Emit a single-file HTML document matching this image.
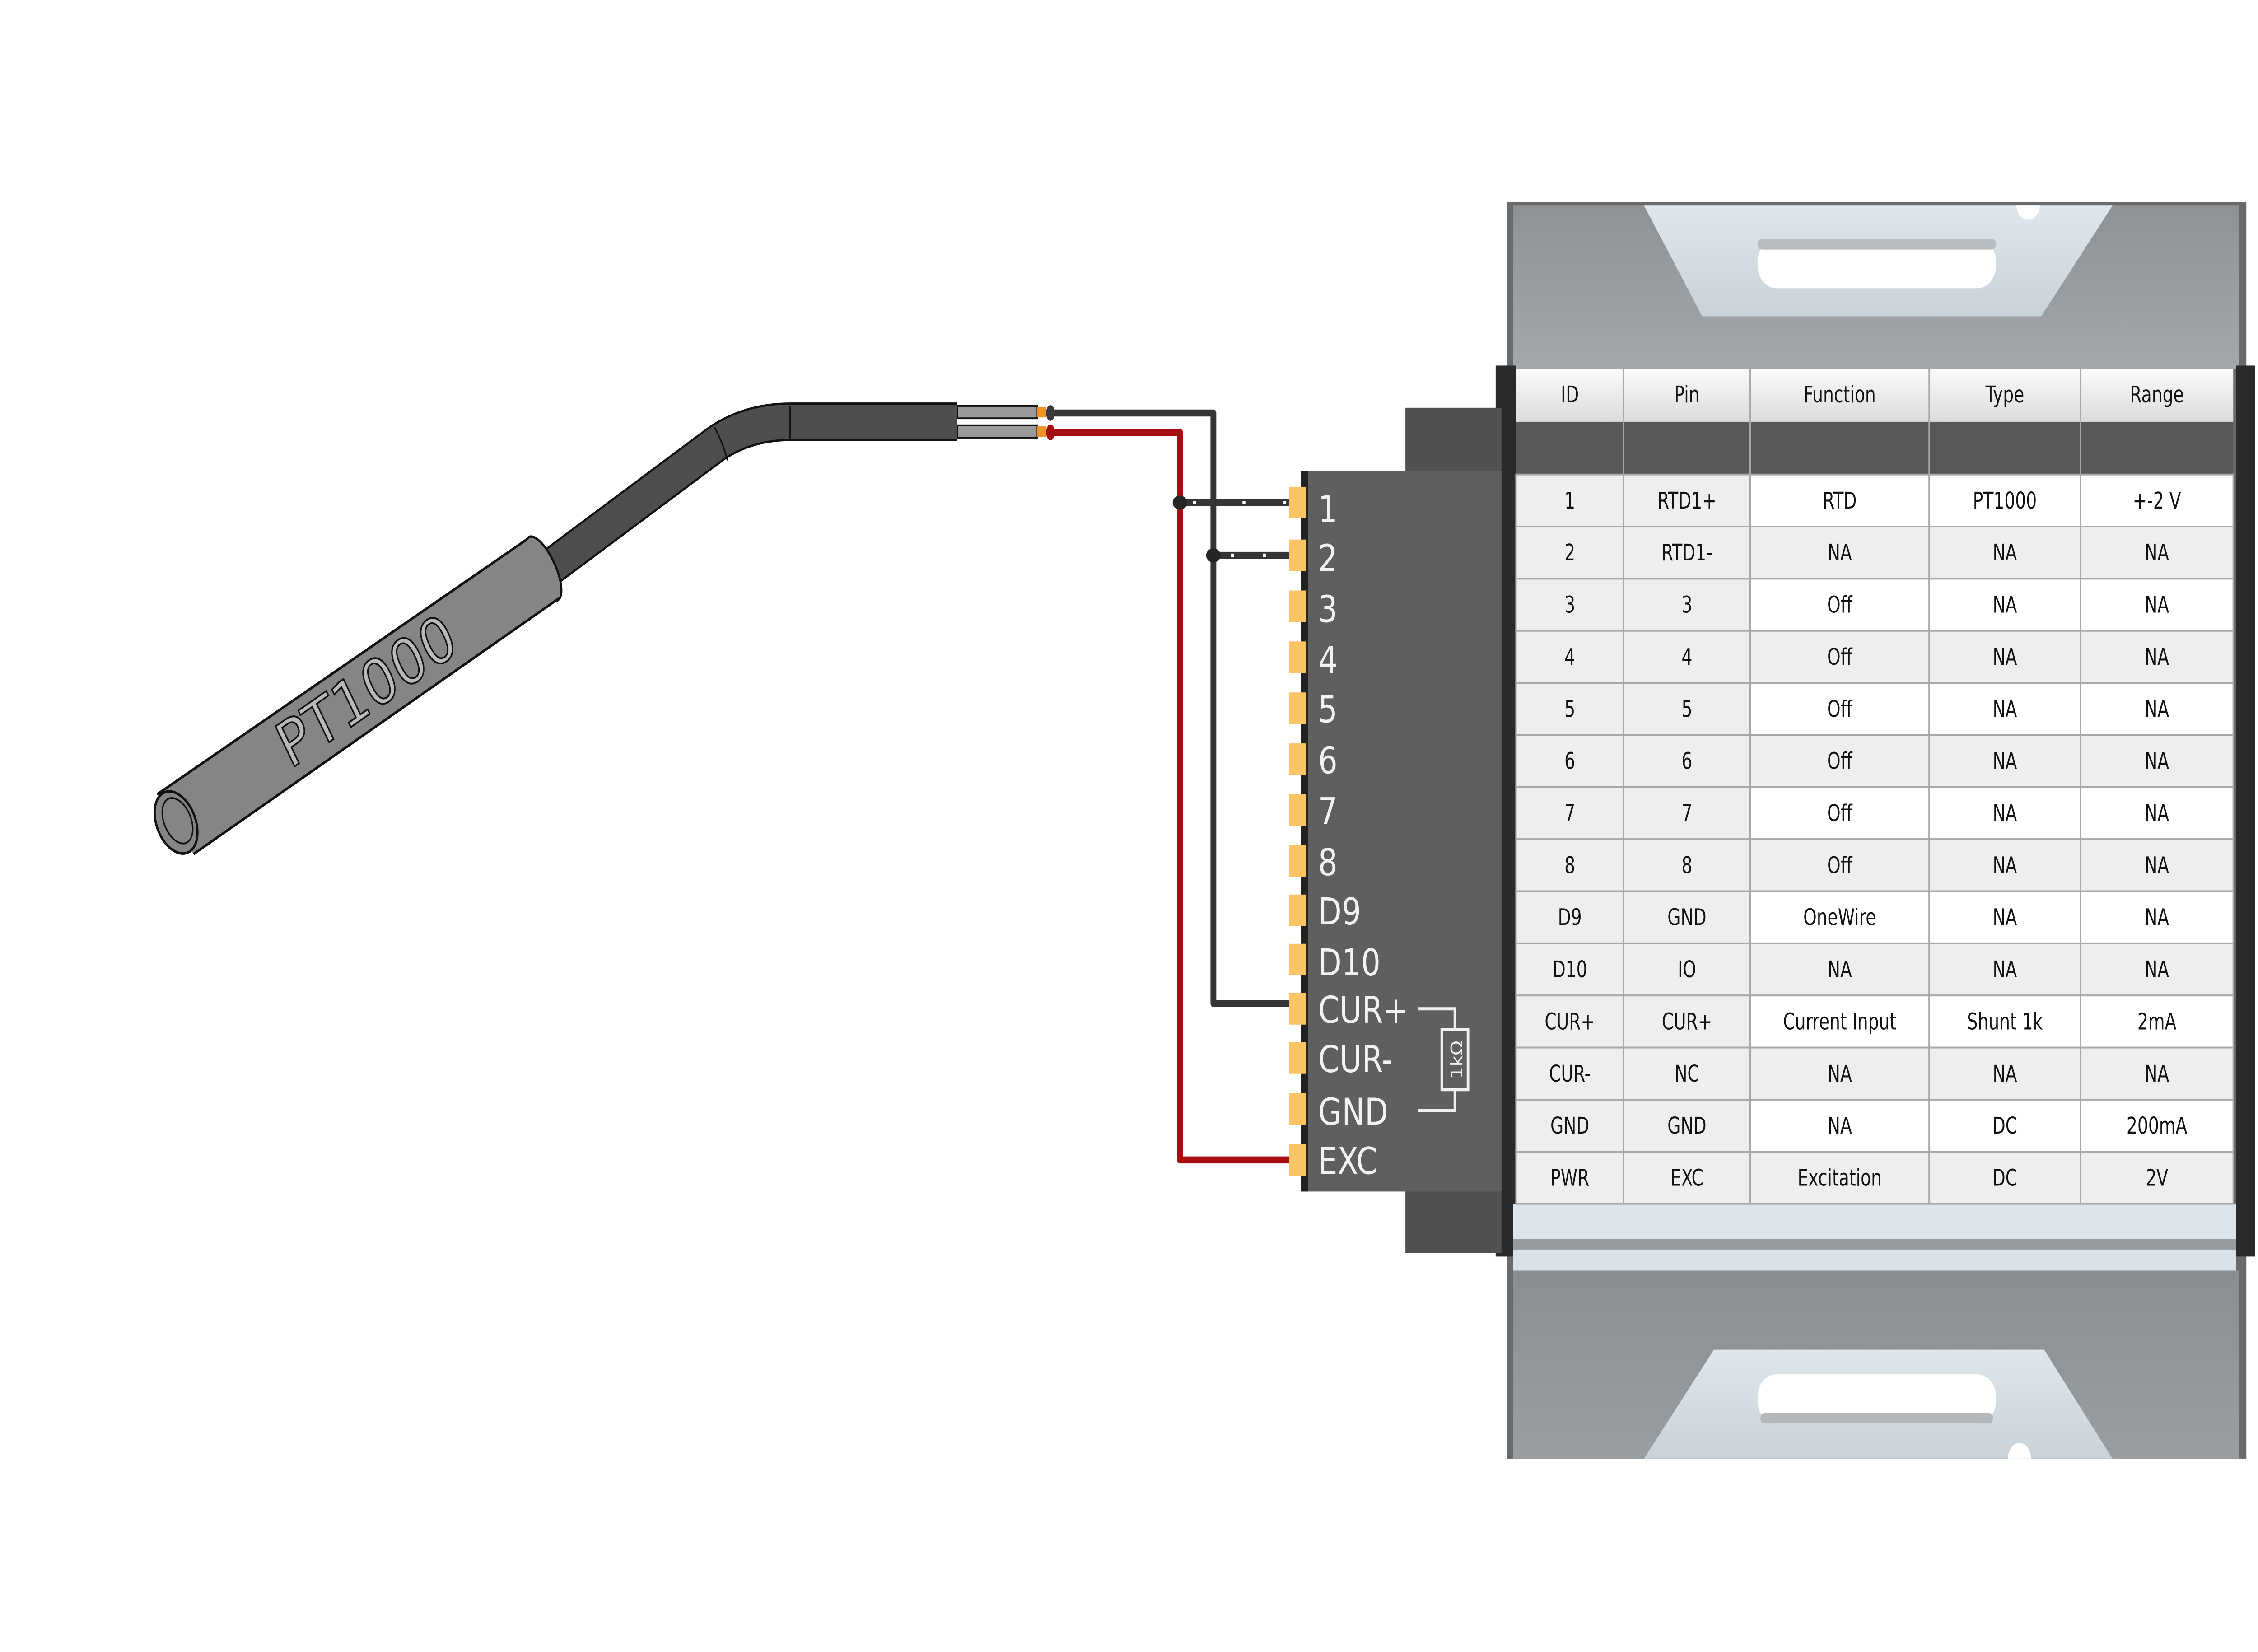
<!DOCTYPE html>
<html><head><meta charset="utf-8"><style>
html,body{margin:0;padding:0;background:#fff;width:100%;height:100%;overflow:hidden}
svg{display:block;width:100vw;height:100vh}
</style></head><body>
<svg viewBox="0 0 1552 940" preserveAspectRatio="none" xmlns="http://www.w3.org/2000/svg">
<defs>
<linearGradient id="gtop" x1="0" y1="0" x2="0" y2="1"><stop offset="0" stop-color="#8e9294"/><stop offset="1" stop-color="#a4a8aa"/></linearGradient>
<linearGradient id="gbot" x1="0" y1="0" x2="0" y2="1"><stop offset="0" stop-color="#8a8e90"/><stop offset="1" stop-color="#9a9ea0"/></linearGradient>
<linearGradient id="gbr" x1="0" y1="0" x2="0" y2="1"><stop offset="0" stop-color="#dfe7ec"/><stop offset="1" stop-color="#c9d2d8"/></linearGradient>
<linearGradient id="ghead" x1="0" y1="0" x2="0" y2="1"><stop offset="0" stop-color="#fafafa"/><stop offset="1" stop-color="#dcdcdc"/></linearGradient>
</defs>

<rect x="1036" y="115" width="508" height="715" fill="#6a6a6a"/>
<rect x="1040" y="117" width="499" height="93" fill="url(#gtop)"/>
<polygon points="1130,117 1452,117 1403,180 1170,180" fill="url(#gbr)"/>
<path d="M1386,117 a8,8 0 0 0 16,0 z" fill="#fff"/>
<rect x="1208" y="136" width="164" height="28" rx="13" fill="#fff"/>
<rect x="1208" y="136" width="164" height="6" rx="3" fill="#b8bcc0"/>
<rect x="1028" y="208" width="14" height="507" fill="#2a2a2a"/>
<rect x="1537" y="208" width="13" height="507" fill="#2a2a2a"/>
<rect x="1040" y="685" width="497" height="20" fill="#dbe5eb"/>
<rect x="1040" y="705" width="497" height="6" fill="#979b9d"/>
<rect x="1040" y="711" width="497" height="12" fill="#d8e2e8"/>
<rect x="1040" y="723" width="499" height="107" fill="url(#gbot)"/>
<polygon points="1178,768 1405,768 1452,830 1130,830" fill="url(#gbr)"/>
<path d="M1380,830 a8,9 0 0 1 16,0 z" fill="#fff"/>
<rect x="1208" y="782" width="164" height="28" rx="13" fill="#fff"/>
<rect x="1210" y="804" width="160" height="6" rx="3" fill="#b4b8bb"/>

<rect x="1042" y="210" width="493" height="30" fill="url(#ghead)"/>
<rect x="1042" y="240" width="493" height="30" fill="#585858"/>
<g id="rows"></g>
<g id="tbl" font-family="'DejaVu Sans Condensed','Liberation Sans',sans-serif" font-size="13" fill="#111" text-anchor="middle"></g>

<rect x="966" y="232" width="66" height="481" fill="#515151"/>
<rect x="898" y="268" width="134" height="410" fill="#5f5f5f"/>
<rect x="894" y="268" width="5" height="410" fill="#222"/>
<g id="pins"></g>
<g font-family="'DejaVu Sans','Liberation Sans',sans-serif" font-size="21" fill="#f2f2f2">
<text x="906" y="297">1</text><text x="906" y="325">2</text><text x="906" y="354">3</text><text x="906" y="383">4</text><text x="906" y="411">5</text><text x="906" y="440">6</text><text x="906" y="469">7</text><text x="906" y="498">8</text><text x="906" y="526">D9</text><text x="906" y="555">D10</text><text x="906" y="582">CUR+</text><text x="906" y="610">CUR-</text><text x="906" y="640">GND</text><text x="906" y="668">EXC</text>
</g>
<g stroke="#f0f0f0" stroke-width="1.8" fill="none">
<polyline points="975,574 1000,574 1000,586"/>
<polyline points="975,632 1000,632 1000,620"/>
<rect x="991" y="586" width="18" height="34"/>
</g>
<text x="0" y="0" transform="translate(1005,603) rotate(-90)" font-family="'DejaVu Sans',sans-serif" font-size="11" fill="#f0f0f0" text-anchor="middle">1kΩ</text>

<g fill="none" stroke-width="4" stroke-linejoin="round">
<polyline points="722,235 834,235 834,571 886,571" stroke="#353535"/>
<polyline points="722,246 811,246 811,660 886,660" stroke="#a50d10"/>
<line x1="811" y1="286" x2="886" y2="286" stroke="#353535"/>
<line x1="834" y1="316" x2="886" y2="316" stroke="#353535"/>
</g>
<g fill="#fff"><rect x="820" y="285" width="2" height="2"/><rect x="854" y="285" width="2" height="2"/><rect x="882" y="285" width="2" height="2"/><rect x="846" y="315" width="2" height="2"/><rect x="868" y="315" width="2" height="2"/></g>
<ellipse cx="811" cy="286" rx="5" ry="4" fill="#252525"/>
<ellipse cx="834" cy="316" rx="5" ry="4" fill="#252525"/>

<rect x="658" y="231" width="55" height="7" fill="#9a9a9a" stroke="#111" stroke-width="1"/>
<rect x="658" y="242" width="55" height="7" fill="#9a9a9a" stroke="#111" stroke-width="1"/>
<rect x="713" y="231.5" width="6" height="6" fill="#f0942a"/>
<rect x="713" y="242.5" width="6" height="6" fill="#f0942a"/>
<ellipse cx="722" cy="235" rx="3" ry="4.5" fill="#3a3a3a"/>
<ellipse cx="722" cy="246" rx="3" ry="4.5" fill="#a50d10"/>
<path d="M378,323 L493,252 Q515,240 543,240 L658,240" fill="none" stroke="#111" stroke-width="22"/>
<path d="M378,323 L493,252 Q515,240 543,240 L658,240" fill="none" stroke="#4e4e4e" stroke-width="19.5"/>
<line x1="543" y1="231" x2="543" y2="250" stroke="#111" stroke-width="1"/>
<path d="M491,243 Q497,252 500,262" fill="none" stroke="#111" stroke-width="1"/>
<ellipse cx="373.5" cy="323.5" rx="8" ry="20.5" transform="rotate(-30 373.5 323.5)" fill="#848685" stroke="#111" stroke-width="1.4"/>
<polygon points="108,452 362,307 385,340 133,486" fill="#848685"/>
<line x1="108" y1="452" x2="362" y2="307" stroke="#111" stroke-width="1.5"/>
<line x1="133" y1="486" x2="385" y2="340" stroke="#111" stroke-width="1.5"/>
<ellipse cx="121" cy="468" rx="13" ry="19" transform="rotate(-30 121 468)" fill="#848685" stroke="#111" stroke-width="1.5"/>
<ellipse cx="122" cy="467" rx="9" ry="14" transform="rotate(-30 122 467)" fill="none" stroke="#111" stroke-width="1"/>
<text x="0" y="0" transform="translate(258,404) rotate(-30)" font-family="'DejaVu Sans','Liberation Sans',sans-serif" font-size="36" fill="#b8b9b8" stroke="#111" stroke-width="1" text-anchor="middle">PT1000</text>
</svg>
<script>
var NS="http://www.w3.org/2000/svg";
function el(p,t,a,txt){var e=document.createElementNS(NS,t);for(var k in a)e.setAttribute(k,a[k]);if(txt!==undefined)e.textContent=txt;p.appendChild(e);return e;}
var cols=[1042,1116,1203,1326,1430,1535];
var tbl=document.getElementById('tbl');
var hdr=["ID","Pin","Function","Type","Range"];
for(var i=0;i<5;i++){el(tbl,'text',{x:(cols[i]+cols[i+1])/2,y:229},hdr[i]);}
var data=[["1","RTD1+","RTD","PT1000","+-2 V"],["2","RTD1-","NA","NA","NA"],["3","3","Off","NA","NA"],["4","4","Off","NA","NA"],["5","5","Off","NA","NA"],["6","6","Off","NA","NA"],["7","7","Off","NA","NA"],["8","8","Off","NA","NA"],["D9","GND","OneWire","NA","NA"],["D10","IO","NA","NA","NA"],["CUR+","CUR+","Current Input","Shunt 1k","2mA"],["CUR-","NC","NA","NA","NA"],["GND","GND","NA","DC","200mA"],["PWR","EXC","Excitation","DC","2V"]];
var rh=(685-270)/14;
var rows=document.getElementById('rows');
for(var r=0;r<14;r++){var y=270+r*rh;
 for(var c=0;c<5;c++){var fill=(c<2||r%2==1)?"#eceef0":"#ffffff";
  el(rows,'rect',{x:cols[c],y:y,width:cols[c+1]-cols[c],height:rh,fill:fill,stroke:"#a8a8a8","stroke-width":1});
  el(tbl,'text',{x:(cols[c]+cols[c+1])/2,y:y+rh/2+4.5},data[r][c]);}
}
for(var c=1;c<5;c++){el(rows,'line',{x1:cols[c],y1:210,x2:cols[c],y2:270,stroke:"#a8a8a8","stroke-width":1});}
var pins=document.getElementById('pins');
var pys=[286,316,345,374,403,432,461,490,518,546,574,602,631,660];
for(var i=0;i<14;i++){el(pins,'rect',{x:886,y:pys[i]-9,width:12,height:18,fill:"#fbc566"});}
</script>
</body></html>
